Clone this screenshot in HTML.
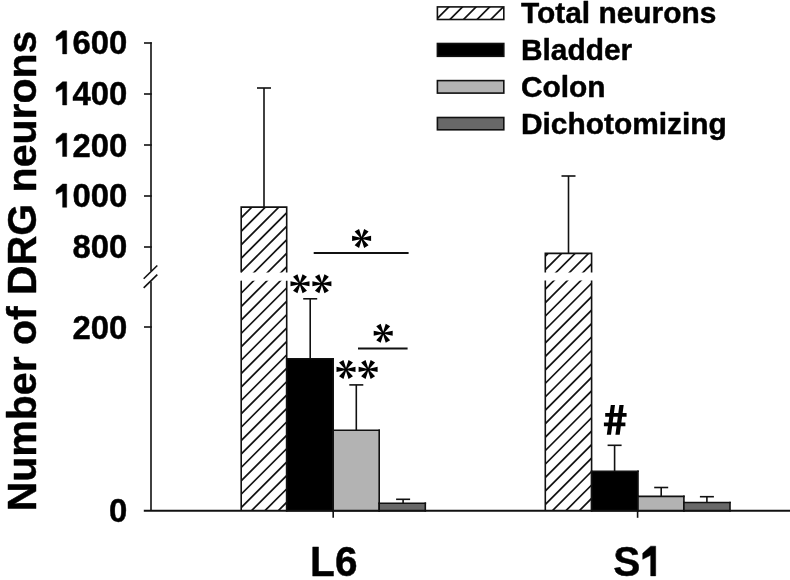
<!DOCTYPE html>
<html><head><meta charset="utf-8"><style>html,body{margin:0;padding:0;background:#fff;overflow:hidden}svg{display:block;filter:blur(0.4px)}text,.g{stroke:#000;stroke-width:0.45px;stroke-linejoin:round}</style></head>
<body><svg width="790" height="580" viewBox="0 0 790 580" font-family="Liberation Sans" font-weight="bold">
<rect width="790" height="580" fill="#fff"/>
<rect x="241.2" y="207.1" width="45.5" height="65.4" fill="#fff"/>
<clipPath id="h1"><rect x="241.2" y="207.1" width="45.5" height="65.4"/></clipPath><g clip-path="url(#h1)" stroke="#111" stroke-width="1.7"><line x1="171.00" y1="274.5" x2="240.40" y2="205.1"/><line x1="184.50" y1="274.5" x2="253.90" y2="205.1"/><line x1="198.00" y1="274.5" x2="267.40" y2="205.1"/><line x1="211.50" y1="274.5" x2="280.90" y2="205.1"/><line x1="225.00" y1="274.5" x2="294.40" y2="205.1"/><line x1="238.50" y1="274.5" x2="307.90" y2="205.1"/><line x1="252.00" y1="274.5" x2="321.40" y2="205.1"/><line x1="265.50" y1="274.5" x2="334.90" y2="205.1"/><line x1="279.00" y1="274.5" x2="348.40" y2="205.1"/><line x1="292.50" y1="274.5" x2="361.90" y2="205.1"/></g>
<clipPath id="h2"><rect x="241.2" y="280.8" width="45.5" height="230.0"/></clipPath><g clip-path="url(#h2)" stroke="#111" stroke-width="1.7"><line x1="8.20" y1="512.8" x2="242.20" y2="278.8"/><line x1="21.60" y1="512.8" x2="255.60" y2="278.8"/><line x1="35.00" y1="512.8" x2="269.00" y2="278.8"/><line x1="48.40" y1="512.8" x2="282.40" y2="278.8"/><line x1="61.80" y1="512.8" x2="295.80" y2="278.8"/><line x1="75.20" y1="512.8" x2="309.20" y2="278.8"/><line x1="88.60" y1="512.8" x2="322.60" y2="278.8"/><line x1="102.00" y1="512.8" x2="336.00" y2="278.8"/><line x1="115.40" y1="512.8" x2="349.40" y2="278.8"/><line x1="128.80" y1="512.8" x2="362.80" y2="278.8"/><line x1="142.20" y1="512.8" x2="376.20" y2="278.8"/><line x1="155.60" y1="512.8" x2="389.60" y2="278.8"/><line x1="169.00" y1="512.8" x2="403.00" y2="278.8"/><line x1="182.40" y1="512.8" x2="416.40" y2="278.8"/><line x1="195.80" y1="512.8" x2="429.80" y2="278.8"/><line x1="209.20" y1="512.8" x2="443.20" y2="278.8"/><line x1="222.60" y1="512.8" x2="456.60" y2="278.8"/><line x1="236.00" y1="512.8" x2="470.00" y2="278.8"/><line x1="249.40" y1="512.8" x2="483.40" y2="278.8"/><line x1="262.80" y1="512.8" x2="496.80" y2="278.8"/><line x1="276.20" y1="512.8" x2="510.20" y2="278.8"/><line x1="289.60" y1="512.8" x2="523.60" y2="278.8"/></g>
<path d="M241.2,272.5 V207.1 H286.7 V272.5" fill="none" stroke="#111" stroke-width="1.6"/>
<path d="M241.2,280.8 V510.8 M286.7,280.8 V510.8" fill="none" stroke="#111" stroke-width="1.6"/>
<line x1="264" y1="207.1" x2="264" y2="88" stroke="#111" stroke-width="1.6"/><line x1="257.0" y1="88" x2="271.0" y2="88" stroke="#111" stroke-width="1.6"/>
<rect x="286.7" y="358.8" width="46.5" height="152.0" fill="#000"/><line x1="286.7" y1="358.8" x2="333.2" y2="358.8" stroke="#111" stroke-width="1.6" stroke-linecap="square"/><line x1="286.7" y1="510.8" x2="333.2" y2="510.8" stroke="#111" stroke-width="1.6" stroke-linecap="square"/><line x1="286.7" y1="358.8" x2="286.7" y2="510.8" stroke="#111" stroke-width="1.6" stroke-linecap="square"/><line x1="333.2" y1="358.8" x2="333.2" y2="510.8" stroke="#111" stroke-width="1.6" stroke-linecap="square"/>
<line x1="310.2" y1="358.8" x2="310.2" y2="298.8" stroke="#111" stroke-width="1.6"/><line x1="303.2" y1="298.8" x2="317.2" y2="298.8" stroke="#111" stroke-width="1.6"/>
<rect x="333.2" y="430.2" width="46.0" height="80.60000000000002" fill="#b3b3b3"/><line x1="333.2" y1="430.2" x2="379.2" y2="430.2" stroke="#111" stroke-width="1.6" stroke-linecap="square"/><line x1="333.2" y1="510.8" x2="379.2" y2="510.8" stroke="#111" stroke-width="1.6" stroke-linecap="square"/><line x1="333.2" y1="430.2" x2="333.2" y2="510.8" stroke="#111" stroke-width="1.6" stroke-linecap="square"/><line x1="379.2" y1="430.2" x2="379.2" y2="510.8" stroke="#111" stroke-width="1.6" stroke-linecap="square"/>
<line x1="356.3" y1="430.2" x2="356.3" y2="384.9" stroke="#111" stroke-width="1.6"/><line x1="349.3" y1="384.9" x2="363.3" y2="384.9" stroke="#111" stroke-width="1.6"/>
<rect x="379.2" y="503.2" width="46.10000000000002" height="7.600000000000023" fill="#686868"/><line x1="379.2" y1="503.2" x2="425.3" y2="503.2" stroke="#111" stroke-width="1.6" stroke-linecap="square"/><line x1="379.2" y1="510.8" x2="425.3" y2="510.8" stroke="#111" stroke-width="1.6" stroke-linecap="square"/><line x1="379.2" y1="503.2" x2="379.2" y2="510.8" stroke="#111" stroke-width="1.6" stroke-linecap="square"/><line x1="425.3" y1="503.2" x2="425.3" y2="510.8" stroke="#111" stroke-width="1.6" stroke-linecap="square"/>
<line x1="403.1" y1="503.2" x2="403.1" y2="499.3" stroke="#111" stroke-width="1.6"/><line x1="396.1" y1="499.3" x2="410.1" y2="499.3" stroke="#111" stroke-width="1.6"/>
<clipPath id="h3"><rect x="545.3" y="253.4" width="46.30000000000007" height="19.200000000000017"/></clipPath><g clip-path="url(#h3)" stroke="#111" stroke-width="1.7"><line x1="513.40" y1="274.6" x2="536.60" y2="251.4"/><line x1="526.90" y1="274.6" x2="550.10" y2="251.4"/><line x1="540.40" y1="274.6" x2="563.60" y2="251.4"/><line x1="553.90" y1="274.6" x2="577.10" y2="251.4"/><line x1="567.40" y1="274.6" x2="590.60" y2="251.4"/><line x1="580.90" y1="274.6" x2="604.10" y2="251.4"/><line x1="594.40" y1="274.6" x2="617.60" y2="251.4"/></g>
<clipPath id="h4"><rect x="545.3" y="280.6" width="46.30000000000007" height="230.2"/></clipPath><g clip-path="url(#h4)" stroke="#111" stroke-width="1.7"><line x1="308.25" y1="512.8" x2="542.45" y2="278.6"/><line x1="321.70" y1="512.8" x2="555.90" y2="278.6"/><line x1="335.15" y1="512.8" x2="569.35" y2="278.6"/><line x1="348.60" y1="512.8" x2="582.80" y2="278.6"/><line x1="362.05" y1="512.8" x2="596.25" y2="278.6"/><line x1="375.50" y1="512.8" x2="609.70" y2="278.6"/><line x1="388.95" y1="512.8" x2="623.15" y2="278.6"/><line x1="402.40" y1="512.8" x2="636.60" y2="278.6"/><line x1="415.85" y1="512.8" x2="650.05" y2="278.6"/><line x1="429.30" y1="512.8" x2="663.50" y2="278.6"/><line x1="442.75" y1="512.8" x2="676.95" y2="278.6"/><line x1="456.20" y1="512.8" x2="690.40" y2="278.6"/><line x1="469.65" y1="512.8" x2="703.85" y2="278.6"/><line x1="483.10" y1="512.8" x2="717.30" y2="278.6"/><line x1="496.55" y1="512.8" x2="730.75" y2="278.6"/><line x1="510.00" y1="512.8" x2="744.20" y2="278.6"/><line x1="523.45" y1="512.8" x2="757.65" y2="278.6"/><line x1="536.90" y1="512.8" x2="771.10" y2="278.6"/><line x1="550.35" y1="512.8" x2="784.55" y2="278.6"/><line x1="563.80" y1="512.8" x2="798.00" y2="278.6"/><line x1="577.25" y1="512.8" x2="811.45" y2="278.6"/><line x1="590.70" y1="512.8" x2="824.90" y2="278.6"/></g>
<path d="M545.3,272.6 V253.4 H591.6 V272.6" fill="none" stroke="#111" stroke-width="1.6"/>
<path d="M545.3,280.6 V510.8 M591.6,280.6 V510.8" fill="none" stroke="#111" stroke-width="1.6"/>
<line x1="568.5" y1="253.4" x2="568.5" y2="176" stroke="#111" stroke-width="1.6"/><line x1="561.5" y1="176" x2="575.5" y2="176" stroke="#111" stroke-width="1.6"/>
<rect x="591.6" y="471.2" width="46.39999999999998" height="39.60000000000002" fill="#000"/><line x1="591.6" y1="471.2" x2="638" y2="471.2" stroke="#111" stroke-width="1.6" stroke-linecap="square"/><line x1="591.6" y1="510.8" x2="638" y2="510.8" stroke="#111" stroke-width="1.6" stroke-linecap="square"/><line x1="591.6" y1="471.2" x2="591.6" y2="510.8" stroke="#111" stroke-width="1.6" stroke-linecap="square"/><line x1="638" y1="471.2" x2="638" y2="510.8" stroke="#111" stroke-width="1.6" stroke-linecap="square"/>
<line x1="614.6" y1="471.2" x2="614.6" y2="445.3" stroke="#111" stroke-width="1.6"/><line x1="607.6" y1="445.3" x2="621.6" y2="445.3" stroke="#111" stroke-width="1.6"/>
<rect x="638" y="496.4" width="45.89999999999998" height="14.400000000000034" fill="#b3b3b3"/><line x1="638" y1="496.4" x2="683.9" y2="496.4" stroke="#111" stroke-width="1.6" stroke-linecap="square"/><line x1="638" y1="510.8" x2="683.9" y2="510.8" stroke="#111" stroke-width="1.6" stroke-linecap="square"/><line x1="638" y1="496.4" x2="638" y2="510.8" stroke="#111" stroke-width="1.6" stroke-linecap="square"/><line x1="683.9" y1="496.4" x2="683.9" y2="510.8" stroke="#111" stroke-width="1.6" stroke-linecap="square"/>
<line x1="661.2" y1="496.4" x2="661.2" y2="487.5" stroke="#111" stroke-width="1.6"/><line x1="654.2" y1="487.5" x2="668.2" y2="487.5" stroke="#111" stroke-width="1.6"/>
<rect x="683.9" y="502.5" width="46.10000000000002" height="8.300000000000011" fill="#686868"/><line x1="683.9" y1="502.5" x2="730" y2="502.5" stroke="#111" stroke-width="1.6" stroke-linecap="square"/><line x1="683.9" y1="510.8" x2="730" y2="510.8" stroke="#111" stroke-width="1.6" stroke-linecap="square"/><line x1="683.9" y1="502.5" x2="683.9" y2="510.8" stroke="#111" stroke-width="1.6" stroke-linecap="square"/><line x1="730" y1="502.5" x2="730" y2="510.8" stroke="#111" stroke-width="1.6" stroke-linecap="square"/>
<line x1="706.9" y1="502.5" x2="706.9" y2="496.7" stroke="#111" stroke-width="1.6"/><line x1="699.9" y1="496.7" x2="713.9" y2="496.7" stroke="#111" stroke-width="1.6"/>
<line x1="151" y1="42.2" x2="151" y2="271" stroke="#111" stroke-width="1.6"/>
<line x1="151" y1="281.5" x2="151" y2="510.8" stroke="#111" stroke-width="1.6"/>
<line x1="144" y1="43" x2="151.8" y2="43" stroke="#111" stroke-width="1.6"/>
<line x1="144" y1="94" x2="151.8" y2="94" stroke="#111" stroke-width="1.6"/>
<line x1="144" y1="145" x2="151.8" y2="145" stroke="#111" stroke-width="1.6"/>
<line x1="144" y1="196" x2="151.8" y2="196" stroke="#111" stroke-width="1.6"/>
<line x1="144" y1="247" x2="151.8" y2="247" stroke="#111" stroke-width="1.6"/>
<line x1="144" y1="327" x2="151.8" y2="327" stroke="#111" stroke-width="1.6"/>
<line x1="143.8" y1="510.8" x2="790" y2="510.8" stroke="#111" stroke-width="1.9"/>
<line x1="333.2" y1="510.8" x2="333.2" y2="517.8" stroke="#111" stroke-width="1.6"/>
<line x1="637.6" y1="510.8" x2="637.6" y2="517.8" stroke="#111" stroke-width="1.6"/>
<line x1="143.7" y1="278.8" x2="157.3" y2="265.5" stroke="#111" stroke-width="1.6"/>
<line x1="143.7" y1="287.9" x2="157.3" y2="274.6" stroke="#111" stroke-width="1.6"/>
<path d="M300.00,284.30 L309.50,286.35 L309.50,281.25 L300.00,283.30Z M300.43,284.05 L306.96,276.85 L302.54,274.30 L299.57,283.55Z M300.43,283.55 L297.46,274.30 L293.04,276.85 L299.57,284.05Z M300.00,283.30 L290.50,281.25 L290.50,286.35 L300.00,284.30Z M299.57,283.55 L293.04,290.75 L297.46,293.30 L300.43,284.05Z M299.57,284.05 L302.54,293.30 L306.96,290.75 L300.43,283.55Z" fill="#000"/><circle cx="300.0" cy="283.8" r="1.1" fill="#000"/>
<path d="M321.90,284.30 L331.40,286.35 L331.40,281.25 L321.90,283.30Z M322.33,284.05 L328.86,276.85 L324.44,274.30 L321.47,283.55Z M322.33,283.55 L319.36,274.30 L314.94,276.85 L321.47,284.05Z M321.90,283.30 L312.40,281.25 L312.40,286.35 L321.90,284.30Z M321.47,283.55 L314.94,290.75 L319.36,293.30 L322.33,284.05Z M321.47,284.05 L324.44,293.30 L328.86,290.75 L322.33,283.55Z" fill="#000"/><circle cx="321.9" cy="283.8" r="1.1" fill="#000"/>
<path d="M346.00,369.90 L355.50,371.95 L355.50,366.85 L346.00,368.90Z M346.43,369.65 L352.96,362.45 L348.54,359.90 L345.57,369.15Z M346.43,369.15 L343.46,359.90 L339.04,362.45 L345.57,369.65Z M346.00,368.90 L336.50,366.85 L336.50,371.95 L346.00,369.90Z M345.57,369.15 L339.04,376.35 L343.46,378.90 L346.43,369.65Z M345.57,369.65 L348.54,378.90 L352.96,376.35 L346.43,369.15Z" fill="#000"/><circle cx="346.0" cy="369.4" r="1.1" fill="#000"/>
<path d="M368.10,369.90 L377.60,371.95 L377.60,366.85 L368.10,368.90Z M368.53,369.65 L375.06,362.45 L370.64,359.90 L367.67,369.15Z M368.53,369.15 L365.56,359.90 L361.14,362.45 L367.67,369.65Z M368.10,368.90 L358.60,366.85 L358.60,371.95 L368.10,369.90Z M367.67,369.15 L361.14,376.35 L365.56,378.90 L368.53,369.65Z M367.67,369.65 L370.64,378.90 L375.06,376.35 L368.53,369.15Z" fill="#000"/><circle cx="368.1" cy="369.4" r="1.1" fill="#000"/>
<line x1="313.7" y1="253.1" x2="408.6" y2="253.1" stroke="#111" stroke-width="2"/>
<path d="M361.60,238.90 L371.10,240.95 L371.10,235.85 L361.60,237.90Z M362.03,238.65 L368.56,231.45 L364.14,228.90 L361.17,238.15Z M362.03,238.15 L359.06,228.90 L354.64,231.45 L361.17,238.65Z M361.60,237.90 L352.10,235.85 L352.10,240.95 L361.60,238.90Z M361.17,238.15 L354.64,245.35 L359.06,247.90 L362.03,238.65Z M361.17,238.65 L364.14,247.90 L368.56,245.35 L362.03,238.15Z" fill="#000"/><circle cx="361.6" cy="238.4" r="1.1" fill="#000"/>
<line x1="358" y1="348.5" x2="407.6" y2="348.5" stroke="#111" stroke-width="2"/>
<path d="M383.20,333.70 L392.70,335.75 L392.70,330.65 L383.20,332.70Z M383.63,333.45 L390.16,326.25 L385.74,323.70 L382.77,332.95Z M383.63,332.95 L380.66,323.70 L376.24,326.25 L382.77,333.45Z M383.20,332.70 L373.70,330.65 L373.70,335.75 L383.20,333.70Z M382.77,332.95 L376.24,340.15 L380.66,342.70 L383.63,333.45Z M382.77,333.45 L385.74,342.70 L390.16,340.15 L383.63,332.95Z" fill="#000"/><circle cx="383.2" cy="333.2" r="1.1" fill="#000"/>
<path d="M610.8,405.0 L615.0,405.0 L611.0,434.8 L606.8,434.8 Z M619.4,405.0 L623.7,405.0 L619.7,434.8 L615.4,434.8 Z M605.2,413.1 L626.6,413.1 L626.6,416.8 L605.2,416.8 Z M603.9,422.5 L625.4,422.5 L625.4,426.3 L603.9,426.3 Z" fill="#000"/>
<g transform="translate(127.3,53.9) scale(0.99,1)"><path class="g" d="M-65.34,-23.24 L-61.22,-23.24 L-61.22,0.00 L-65.34,0.00 L-65.34,-16.14 L-71.84,-12.95 L-71.84,-17.60 Z" fill="#000"/><text x="-55.38" y="0" font-size="33.2">6</text><text x="-36.92" y="0" font-size="33.2">0</text><text x="-18.46" y="0" font-size="33.2">0</text></g>
<g transform="translate(127.3,105.0) scale(0.99,1)"><path class="g" d="M-65.34,-23.24 L-61.22,-23.24 L-61.22,0.00 L-65.34,0.00 L-65.34,-16.14 L-71.84,-12.95 L-71.84,-17.60 Z" fill="#000"/><text x="-55.38" y="0" font-size="33.2">4</text><text x="-36.92" y="0" font-size="33.2">0</text><text x="-18.46" y="0" font-size="33.2">0</text></g>
<g transform="translate(127.3,156.5) scale(0.99,1)"><path class="g" d="M-65.34,-23.24 L-61.22,-23.24 L-61.22,0.00 L-65.34,0.00 L-65.34,-16.14 L-71.84,-12.95 L-71.84,-17.60 Z" fill="#000"/><text x="-55.38" y="0" font-size="33.2">2</text><text x="-36.92" y="0" font-size="33.2">0</text><text x="-18.46" y="0" font-size="33.2">0</text></g>
<g transform="translate(127.3,207.3) scale(0.99,1)"><path class="g" d="M-65.34,-23.24 L-61.22,-23.24 L-61.22,0.00 L-65.34,0.00 L-65.34,-16.14 L-71.84,-12.95 L-71.84,-17.60 Z" fill="#000"/><text x="-55.38" y="0" font-size="33.2">0</text><text x="-36.92" y="0" font-size="33.2">0</text><text x="-18.46" y="0" font-size="33.2">0</text></g>
<g transform="translate(127.3,258.1) scale(0.99,1)"><text x="-55.38" y="0" font-size="33.2">8</text><text x="-36.92" y="0" font-size="33.2">0</text><text x="-18.46" y="0" font-size="33.2">0</text></g>
<g transform="translate(127.3,338.6) scale(0.99,1)"><text x="-55.38" y="0" font-size="33.2">2</text><text x="-36.92" y="0" font-size="33.2">0</text><text x="-18.46" y="0" font-size="33.2">0</text></g>
<g transform="translate(127.3,521.9) scale(0.99,1)"><text x="-18.46" y="0" font-size="33.2">0</text></g>
<g transform="translate(310.1,575.9) scale(0.955,1)"><text x="0" y="0" font-size="42.5">L6</text></g>
<g transform="translate(613.2,575.9) scale(0.955,1)"><text x="0" y="0" font-size="42.5">S</text><path class="g" d="M39.23,-29.75 L44.50,-29.75 L44.50,0.00 L39.23,0.00 L39.23,-20.66 L30.90,-16.57 L30.90,-22.53 Z" fill="#000"/></g>
<text transform="translate(35.6,511.3) rotate(-90)" x="0" y="0" font-size="41">Number of DRG neurons</text>
<clipPath id="h5"><rect x="437.4" y="6.9" width="66.40000000000003" height="12.6"/></clipPath><g clip-path="url(#h5)" stroke="#111" stroke-width="1.7"><line x1="420.70" y1="21.5" x2="437.30" y2="4.9"/><line x1="434.30" y1="21.5" x2="450.90" y2="4.9"/><line x1="447.90" y1="21.5" x2="464.50" y2="4.9"/><line x1="461.50" y1="21.5" x2="478.10" y2="4.9"/><line x1="475.10" y1="21.5" x2="491.70" y2="4.9"/><line x1="488.70" y1="21.5" x2="505.30" y2="4.9"/><line x1="502.30" y1="21.5" x2="518.90" y2="4.9"/></g>
<rect x="437.4" y="6.9" width="66.40000000000003" height="12.6" fill="none" stroke="#111" stroke-width="1.6"/>
<rect x="437.4" y="43.5" width="66.40000000000003" height="12.8" fill="#000" stroke="#111" stroke-width="1.6"/>
<rect x="437.4" y="80.6" width="66.40000000000003" height="12.5" fill="#b3b3b3" stroke="#111" stroke-width="1.6"/>
<rect x="437.4" y="117.5" width="66.40000000000003" height="12.3" fill="#686868" stroke="#111" stroke-width="1.6"/>
<g transform="translate(520.9,23.40) scale(0.997,1)"><text x="0" y="0" font-size="30">Total neurons</text></g>
<g transform="translate(520.9,60.25) scale(0.997,1)"><text x="0" y="0" font-size="30">Bladder</text></g>
<g transform="translate(520.9,97.10) scale(0.997,1)"><text x="0" y="0" font-size="30">Colon</text></g>
<g transform="translate(520.9,133.95) scale(0.997,1)"><text x="0" y="0" font-size="30">Dichotomizing</text></g>
</svg></body></html>
